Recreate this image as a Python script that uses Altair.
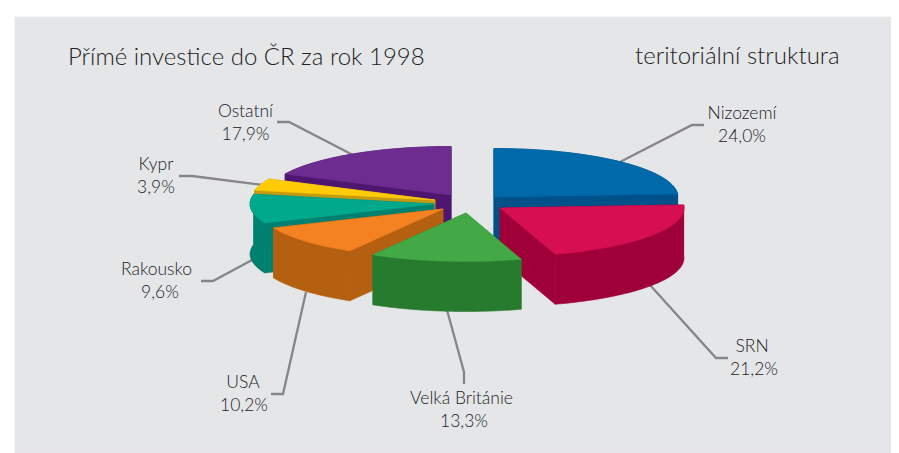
import math
import altair as alt
import pandas as pd

# Data
names = ["Nizozemí", "SRN", "Velká Británie", "USA", "Rakousko", "Kypr", "Ostatní"]
shares = [24.0, 21.2, 13.3, 10.2, 9.6, 3.9, 17.9]
share_labels = ["24,0%", "21,2%", "13,3%", "10,2%", "9,6%", "3,9%", "17,9%"]
top_colors = ["#0069aa", "#d60e52", "#43a846", "#f58220", "#00a88c", "#ffcb05", "#6d2c90"]
side_colors = ["#00508a", "#a00038", "#267b2e", "#b56010", "#00806e", "#c39a10", "#4f1670"]

# Pie layout: apex of every exploded slice, ellipse radii and thickness
apex_x = [494, 500, 466, 443, 434, 435, 451]
apex_y = [197, 208, 213, 209, 204, 200, 195]
RX, RY, DEPTH = 184, 48.5, 50
draw_order = [6, 0, 5, 4, 1, 3, 2]

# Annotation layout
name_x = [742, 752, 461.5, 243, 156.5, 156, 245.5]
name_y = [119, 352, 404, 388, 275, 170, 117]
pct_x = [742, 754, 464, 244, 160, 156, 245.5]
pct_y = [142, 375, 427, 411, 298, 193, 140]
leaders = [
    [(620, 162), (692, 125), (704, 125)],
    [(650, 285), (716, 358), (728, 358)],
    [(447, 310), (464, 372), (464, 384)],
    [(306, 292), (283, 394), (271, 394)],
    [(252, 260), (213, 281), (201, 281)],
    [(263, 185), (192, 176), (179, 176)],
    [(353, 155), (289, 122), (277, 122)],
]
TITLE_LEFT = "Přímé investice do ČR za rok 1998"
TITLE_RIGHT = "teritoriální struktura"
FONT = "Lato"
TEXT = "#222224"

W, H = 883, 445
xs = alt.Scale(domain=[8, 8 + W], range=[0, W])
ys = alt.Scale(domain=[8, 8 + H], range=[0, H])
X = alt.X("x:Q", scale=xs, axis=None)
Y = alt.Y("y:Q", scale=ys, axis=None)


def polygon(points, color):
    df = pd.DataFrame([{"x": p[0], "y": p[1], "i": i} for i, p in enumerate(points)])
    return alt.Chart(df).mark_line(
        fill=color, stroke=color, strokeWidth=0.6, interpolate="linear-closed", clip=True
    ).encode(x=X, y=Y, order=alt.Order("i:Q"))


def arc(cx, cy, a0, a1, n=48):
    out = []
    for k in range(n + 1):
        a = math.radians(a0 + (a1 - a0) * k / n)
        out.append((cx + RX * math.sin(a), cy - RY * math.cos(a)))
    return out


layers = []
# Background panel
layers.append(polygon([(15, 17), (8 + W, 17), (8 + W, 8 + H), (15, 8 + H)], "#e5e6e8"))

total = sum(shares)
starts = []
acc = 0.0
for s in shares:
    starts.append(acc)
    acc += s * 360 / total

# Leader lines sit behind the pie
for pts in leaders:
    df = pd.DataFrame([{"x": p[0], "y": p[1], "i": i} for i, p in enumerate(pts)])
    layers.append(
        alt.Chart(df).mark_line(color="#868688", strokeWidth=2.3).encode(
            x=X, y=Y, order=alt.Order("i:Q")
        )
    )

for idx in draw_order:
    cx, cy = apex_x[idx], apex_y[idx]
    a0 = starts[idx]
    a1 = a0 + shares[idx] * 360 / total
    curve = arc(cx, cy, a0, a1)
    lower = [(x, y + DEPTH) for x, y in curve]
    for end in (curve[0], curve[-1]):
        layers.append(
            polygon(
                [(cx, cy), end, (end[0], end[1] + DEPTH), (cx, cy + DEPTH)],
                side_colors[idx],
            )
        )
    layers.append(polygon(curve + lower[::-1], side_colors[idx]))
    layers.append(polygon([(cx, cy)] + curve, top_colors[idx]))

names_df = pd.DataFrame({"x": name_x, "y": name_y, "t": names})
layers.append(
    alt.Chart(names_df).mark_text(font=FONT, fontSize=17.5, fontWeight=300, color=TEXT, align="center", baseline="alphabetic")
    .encode(x=X, y=Y, text="t:N")
)
pct_df = pd.DataFrame({"x": pct_x, "y": pct_y, "t": share_labels})
layers.append(
    alt.Chart(pct_df).mark_text(font=FONT, fontSize=17.5, fontWeight=300, color=TEXT, align="center", baseline="alphabetic")
    .encode(x=X, y=Y, text="t:N")
)
titles = pd.DataFrame({"x": [68, 635], "y": [65, 64], "t": [TITLE_LEFT, TITLE_RIGHT]})
layers.append(
    alt.Chart(titles).mark_text(font=FONT, fontSize=24, fontWeight=300, color=TEXT, align="left", baseline="alphabetic")
    .encode(x=X, y=Y, text="t:N")
)

chart = (
    alt.layer(*layers)
    .properties(width=W, height=H, background="#ffffff", padding=0,
                autosize=alt.AutoSizeParams(type="none"))
    .configure_view(stroke=None)
)
chart.save("out.html", embed_options={"renderer": "svg", "actions": False})
